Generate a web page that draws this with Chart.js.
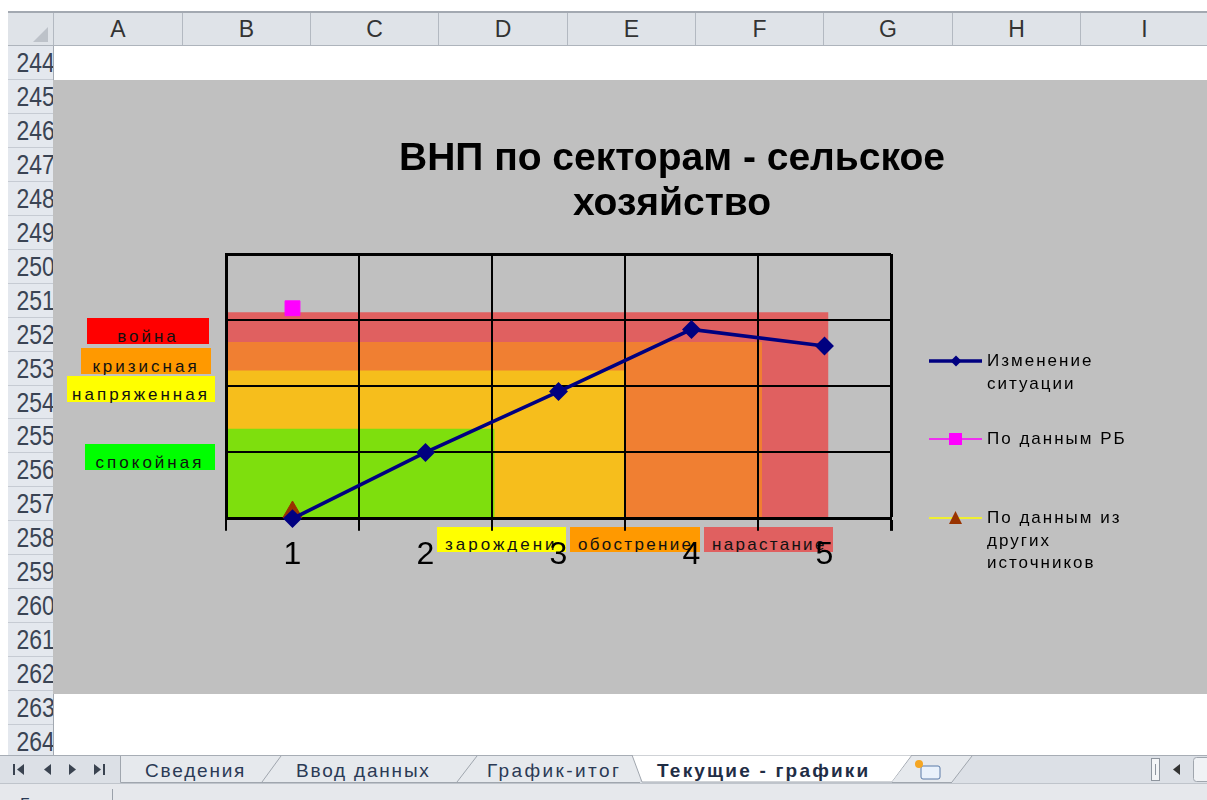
<!DOCTYPE html>
<html lang="ru"><head><meta charset="utf-8">
<script src="https://cdn.jsdelivr.net/npm/chart.js@4.4.1/dist/chart.umd.min.js"></script>
<style>
html,body{margin:0;padding:0}
body{width:1207px;height:800px;overflow:hidden;background:#fff;position:relative;font-family:Arial,"Liberation Sans",sans-serif}
.a{position:absolute}
#colhdr{position:absolute;left:8px;top:11px;width:1199px;height:35px;box-sizing:border-box;border-top:2px solid #A3A9B1;border-bottom:1px solid #AEB4BC;background:#DFE3E8}
.col{position:absolute;top:0;height:32px;line-height:32px;text-align:center;font-size:23px;color:#333;border-left:1px solid #B3B9C1;box-sizing:border-box}
#rowhdr{position:absolute;left:8px;top:46px;width:46px;height:709px;background:#E4E8EE;border-right:1px solid #A3A9B1;box-sizing:border-box;overflow:hidden}
.row{position:absolute;left:0;width:45px;box-sizing:border-box;border-bottom:1px solid #C6CBD3;text-align:right;font-size:28px;color:#3A4454;padding-right:6px;white-space:nowrap}
.row span{display:inline-block;transform:scaleX(.82);transform-origin:right center}
#chartbg{position:absolute;left:53px;top:80px;width:1154px;height:614px;background:#C0C0C0}
#cv{position:absolute;left:53px;top:80px;z-index:3}
.lbl{position:absolute;box-sizing:border-box;height:26px;padding-top:10px;line-height:1;font-size:17px;letter-spacing:3px;text-align:center;color:#111;white-space:nowrap;z-index:2}
.stage{height:25px;padding-top:9px;padding-left:8px;text-align:left;overflow:hidden;white-space:normal;word-break:break-all;letter-spacing:2.3px}
.legt{position:absolute;z-index:4;font-size:17px;letter-spacing:2px;line-height:22.5px;color:#000;width:150px}
.legs{position:absolute;z-index:4}
</style></head><body>
<div id="colhdr"></div>
<div id="rowhdr"></div>
<div id="chartbg"></div>
<div id="overlay"></div>
<canvas id="cv" width="1154" height="614"></canvas>
<svg class="a" style="left:0;top:755px" width="1207" height="45">
 <rect x="0" y="0" width="1207" height="28" fill="#DCE0E6"/>
 <line x1="0" y1="0.5" x2="1207" y2="0.5" stroke="#A7ADB5"/>
 <rect x="0" y="28" width="1207" height="17" fill="#E6E8EC"/>
 <line x1="0" y1="28.5" x2="1207" y2="28.5" stroke="#BFC4CB"/>
 <line x1="112.5" y1="34" x2="112.5" y2="45" stroke="#9AA1AA"/>
 <g fill="#3A4350">
  <rect x="13" y="9" width="2" height="11"/><path d="M24 9 L17 14.5 L24 20Z"/>
  <path d="M51 9 L44 14.5 L51 20Z"/>
  <path d="M69 9 L76 14.5 L69 20Z"/>
  <path d="M94 9 L101 14.5 L94 20Z"/><rect x="103" y="9" width="2" height="11"/>
 </g>
 <polygon points="120,1 280,1 262,27 120,27" fill="#E6E9ED"/>
 <polygon points="280,1 476,1 457,27 262,27" fill="#E6E9ED"/>
 <polygon points="476,1 640,1 640,27 457,27" fill="#E6E9ED"/>
 <path d="M120.5 1 V27.5 H640" fill="none" stroke="#A0A6AE"/>
 <line x1="262" y1="27" x2="281" y2="1" stroke="#A0A6AE"/>
 <line x1="457" y1="27" x2="477" y2="1" stroke="#A0A6AE"/>
 <polygon points="632,0 912,0 892,27 642,27" fill="#FFFFFF" stroke="#A0A6AE"/>
 <polygon points="912,1 972,1 952,27 892,27" fill="#E6E9ED"/>
 <line x1="952" y1="27" x2="972" y2="1" stroke="#A0A6AE"/>
 <line x1="892" y1="27.5" x2="952" y2="27.5" stroke="#A0A6AE"/>
 <rect x="921" y="11" width="19" height="13" rx="2" fill="#E9F1FB" stroke="#5A7BA8"/>
 <circle cx="919" cy="9" r="4" fill="#F5A623"/>
 <rect x="1151.5" y="3.5" width="8" height="22" fill="#F4F5F7" stroke="#8E959E"/>
 <line x1="1155.5" y1="9" x2="1155.5" y2="20" stroke="#8E959E"/>
 <path d="M1180 9 L1173 14.5 L1180 20Z" fill="#333"/>
 <rect x="1193.5" y="2.5" width="20" height="24" rx="3" fill="#F0F2F5" stroke="#A0A6AE"/>
 <g font-family="Arial, 'Liberation Sans', sans-serif" font-size="19" letter-spacing="1.8" fill="#2B3A55">
  <text x="145" y="22">Сведения</text>
  <text x="296" y="22">Ввод данных</text>
  <text x="487" y="22" letter-spacing="2.4">График-итог</text>
  <text x="657" y="22" font-weight="bold" fill="#1F2D45" letter-spacing="2.2">Текущие - графики</text>
  <text x="20" y="55" font-size="17">Готово</text>
 </g>
</svg>
<script>
// ---------- data ----------
const columnLetters = ['A','B','C','D','E','F','G','H','I'];
const firstRow = 244, lastRow = 264;
const categories = [1, 2, 3, 4, 5];
const situation = [0, 1, 1.92, 2.86, 2.61];
const rbData = [3.18, null, null, null, null];
const otherData = [0.1, null, null, null, null];
const categoryEdges = [0.5, 1.5, 2.5, 3.5, 4.5, 5.5];
const zoneNames = ['спокойная', 'напряженная', 'кризисная', 'война'];
const zoneTop = [1.36, 2.24, 2.67, 3.12];
const zoneEnd = [2.52, 3.5, 4.53, 5.03];
const stageNames = ['зарождение', 'обострение', 'нарастание'];
const seriesNames = ['Изменение ситуации', 'По данным РБ', 'По данным из других источников'];
const titleLines = ['ВНП по секторам - сельское', 'хозяйство'];

// ---------- spreadsheet frame ----------
const colEdges = [53, 182, 310, 438, 567, 695, 823, 952, 1080, 1208];
const colhdr = document.getElementById('colhdr');
colhdr.innerHTML = '<svg style="position:absolute;left:0;top:0" width="45" height="33"><polygon points="25,29 40,29 40,14" fill="#BDC2C9"/></svg>';
columnLetters.forEach((c, i) => {
  const d = document.createElement('div');
  d.className = 'col'; d.textContent = c;
  d.style.left = (colEdges[i] - 8) + 'px'; d.style.width = (colEdges[i + 1] - colEdges[i]) + 'px';
  colhdr.appendChild(d);
});
const rowhdr = document.getElementById('rowhdr');
for (let r = firstRow; r <= lastRow; r++) {
  const i = r - firstRow;
  const d = document.createElement('div');
  d.className = 'row';
  const top = Math.round(i * 33.95), h = Math.round((i + 1) * 33.95) - top;
  d.style.top = top + 'px'; d.style.height = h + 'px'; d.style.lineHeight = h + 'px';
  d.innerHTML = '<span>' + r + '</span>';
  rowhdr.appendChild(d);
}

// ---------- text boxes & legend (overlay) ----------
const overlay = document.getElementById('overlay');
const zoneBoxStyle = [
  {l: 85, t: 444, w: 130, bg: '#00FF00'},
  {l: 67, t: 376, w: 148, bg: '#FFFF00'},
  {l: 81, t: 348, w: 130, bg: '#FF9900'},
  {l: 87, t: 318, w: 122, bg: '#FF0000'}
];
zoneNames.forEach((n, i) => {
  const s = zoneBoxStyle[i], d = document.createElement('div');
  d.className = 'lbl'; d.textContent = n;
  Object.assign(d.style, {left: s.l + 'px', top: s.t + 'px', width: s.w + 'px', background: s.bg});
  overlay.appendChild(d);
});
const stageBoxStyle = [
  {l: 437, w: 129, bg: '#FFFF00', ls: '3px'},
  {l: 570, w: 130, bg: '#FF9900', ls: '2.3px'},
  {l: 704, w: 129, bg: '#E06060', ls: '2.3px'}
];
stageNames.forEach((n, i) => {
  const s = stageBoxStyle[i], d = document.createElement('div');
  d.className = 'lbl stage'; d.textContent = n;
  Object.assign(d.style, {left: s.l + 'px', top: '527px', width: s.w + 'px', background: s.bg, letterSpacing: s.ls});
  overlay.appendChild(d);
});
const legendSym = [
  '<line x1="0" y1="10" x2="53" y2="10" stroke="#000080" stroke-width="3.5"/><polygon points="27,4.5 32.5,10 27,15.5 21.5,10" fill="#000080"/>',
  '<line x1="0" y1="10" x2="53" y2="10" stroke="#FF00FF" stroke-width="1.5"/><rect x="20" y="4" width="13" height="12" fill="#FF00FF"/>',
  '<line x1="0" y1="10" x2="53" y2="10" stroke="#FFFF00" stroke-width="1.5"/><polygon points="26.5,3 33,16 20,16" fill="#993300"/>'
];
const legendY = [361, 439, 518];
seriesNames.forEach((n, i) => {
  const s = document.createElement('div');
  s.className = 'legs';
  s.style.left = '929px'; s.style.top = (legendY[i] - 10) + 'px';
  s.innerHTML = '<svg width="54" height="20">' + legendSym[i] + '</svg>';
  overlay.appendChild(s);
  const t = document.createElement('div');
  t.className = 'legt'; t.textContent = n;
  t.style.left = '987px'; t.style.top = (legendY[i] - 11) + 'px';
  overlay.appendChild(t);
});

// ---------- chart ----------
Chart.defaults.font.family = 'Arial, "Liberation Sans", sans-serif';
const toXY = (xs, ys) => xs.map((x, i) => ({x, y: ys[i]})).filter(p => p.y !== null);
const bandColors = ['#7EDF0D', '#F6BE1C', '#F07F32', '#E06060'];
const datasets = [
  {label: seriesNames[0], data: toXY(categories, situation), borderColor: '#000080', backgroundColor: '#000080',
   borderWidth: 3.5, pointStyle: 'rectRot', pointRadius: 7, pointHoverRadius: 7, clip: false, fill: false},
  {label: seriesNames[1], data: toXY(categories, rbData), borderColor: '#FF00FF', backgroundColor: '#FF00FF',
   pointStyle: 'rect', pointRadius: 10.5, pointHoverRadius: 10.5, showLine: false, clip: false, fill: false},
  {label: seriesNames[2], data: toXY(categories, otherData), borderColor: '#993300', backgroundColor: '#993300',
   pointStyle: 'triangle', pointRadius: 11, pointHoverRadius: 11, showLine: false, clip: false, fill: false}
];
const FIRST_BAND = datasets.length;
zoneNames.forEach((n, i) => datasets.push({
  label: n,
  data: [{x: categoryEdges[0], y: zoneTop[i]}, {x: zoneEnd[i], y: zoneTop[i]}],
  borderWidth: 0, borderColor: 'rgba(0,0,0,0)', backgroundColor: bandColors[i],
  fill: 'origin', pointRadius: 0, pointHoverRadius: 0
}));

const gridOnTop = {
  id: 'gridOnTop',
  afterDatasetDraw(chart, args) {
    if (args.index === FIRST_BAND) {
      const ca = chart.chartArea;
      ['x', 'y'].forEach(k => {
        const s = chart.scales[k];
        s.drawGrid(ca);
        if (s.drawBorder) s.drawBorder();
      });
    }
  }
};

const isCat = v => categories.includes(v);
new Chart(document.getElementById('cv'), {
  type: 'line',
  data: {datasets},
  options: {
    responsive: false, animation: false, devicePixelRatio: 1,
    layout: {padding: {left: 173, right: 89, top: 0, bottom: 115}},
    plugins: {
      legend: {display: false}, tooltip: {enabled: false},
      title: {display: true, text: titleLines, color: '#000',
              font: {size: 39, weight: 'bold', lineHeight: 1.154}, padding: {top: 57, bottom: 27}}
    },
    scales: {
      x: {
        type: 'linear', min: categoryEdges[0], max: categoryEdges[categoryEdges.length - 1],
        afterBuildTicks: s => {
          const vals = [];
          categoryEdges.forEach((e, i) => { vals.push(e); if (i < categories.length) vals.push(categories[i]); });
          s.ticks = vals.map(v => ({value: v}));
        },
        ticks: {autoSkip: false, maxRotation: 0, minRotation: 0, padding: 5, color: '#000', font: {size: 32},
                callback: v => isCat(v) ? String(v) : ''},
        grid: {color: c => (c.tick && isCat(c.tick.value)) ? 'rgba(0,0,0,0)' : '#000',
               lineWidth: c => (c.tick && c.tick.value === categoryEdges[categoryEdges.length - 1]) ? 3 : 2,
               tickLength: 12, drawTicks: true},
        border: {display: true, color: '#000', width: 3}
      },
      y: {
        min: 0, max: 4,
        ticks: {stepSize: 1, display: false},
        grid: {color: '#000', lineWidth: c => (c.tick && c.tick.value === 4) ? 3 : 2, drawTicks: false},
        border: {display: true, color: '#000', width: 3},
        afterFit: s => { s.width = 0; }
      },
      yR: {
        position: 'right', display: true,
        grid: {display: false, drawTicks: false}, ticks: {display: false}, border: {display: false},
        afterFit: s => { s.width = 227; }
      }
    }
  },
  plugins: [gridOnTop]
});
</script>
</body></html>
